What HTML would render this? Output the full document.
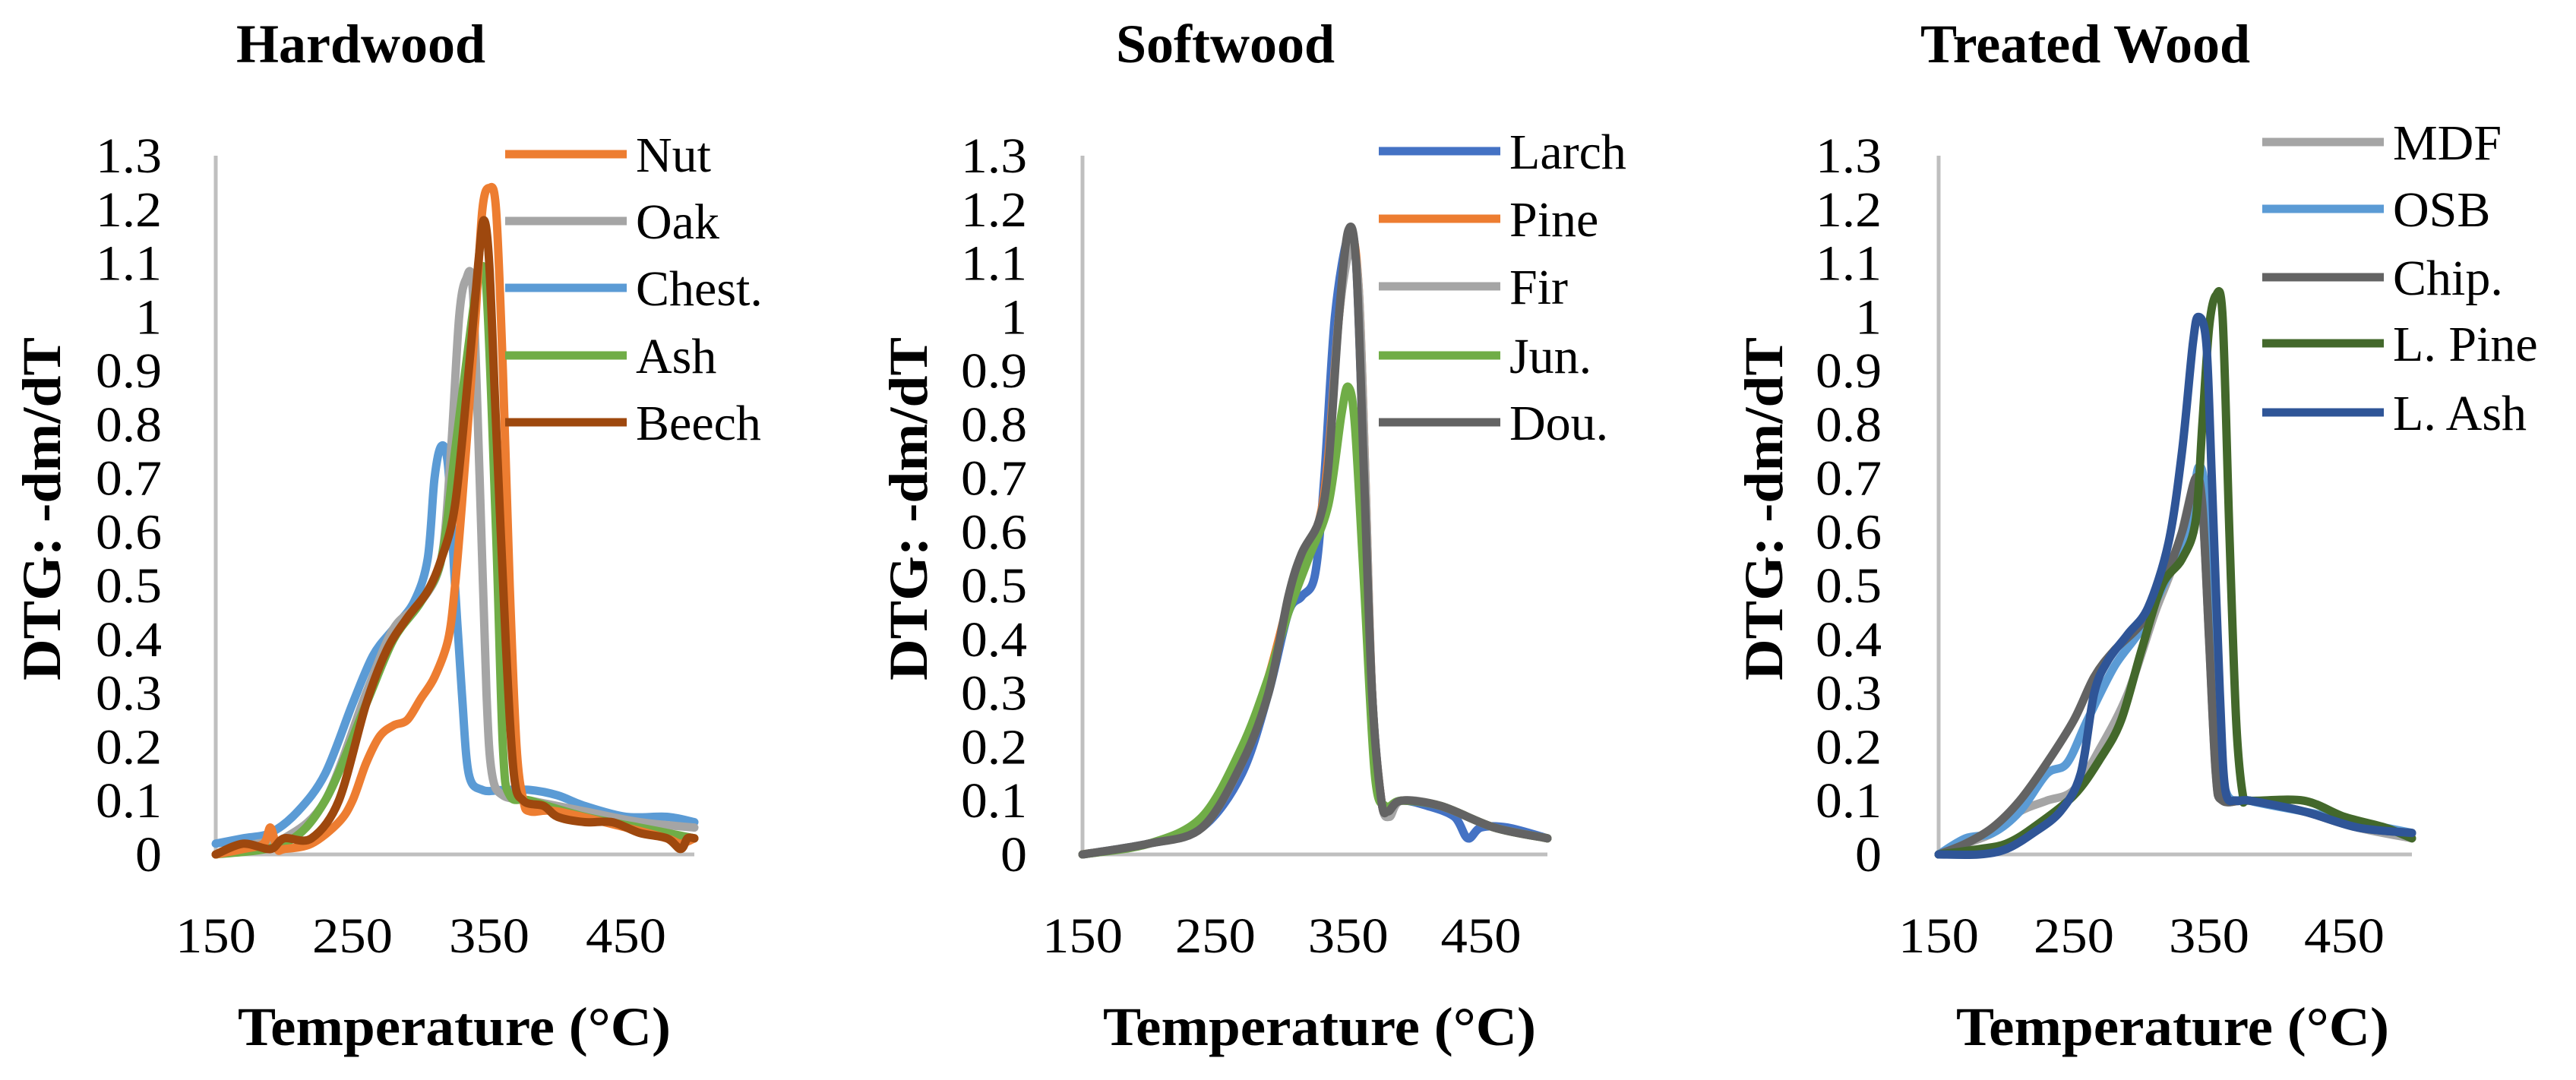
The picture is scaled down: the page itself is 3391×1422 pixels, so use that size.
<!DOCTYPE html>
<html><head><meta charset="utf-8"><style>
html,body{margin:0;padding:0;background:#fff;}
svg{display:block;}
text{font-family:"Liberation Serif",serif;fill:#000;}
.tick{font-size:66px;}
.leg{font-size:66px;}
.ttl{font-size:72px;font-weight:bold;}
.ax{font-size:72px;font-weight:bold;}
</style></head><body>
<svg id="chart" width="3391" height="1422" viewBox="0 0 3391 1422" xmlns="http://www.w3.org/2000/svg"></svg>
<script>
// shared axis data
const yTicks = [0,0.1,0.2,0.3,0.4,0.5,0.6,0.7,0.8,0.9,1,1.1,1.2,1.3];
const yTickLabels = ["0","0.1","0.2","0.3","0.4","0.5","0.6","0.7","0.8","0.9","1","1.1","1.2","1.3"];
const xTicks = [150,250,350,450];
const xTickLabels = ["150","250","350","450"];

// Hardwood
const hwNames = ["Nut","Oak","Chest.","Ash","Beech"];
const hwNutT = [150,170,185,190,195,200,220,240,250,260,270,280,290,300,310,320,325,330,335,340,345,350,355,360,365,370,375,380,400,450,480,490,500];
const hwNutV = [0,0.01,0.02,0.05,0.01,0.01,0.02,0.06,0.1,0.17,0.22,0.24,0.25,0.29,0.33,0.4,0.5,0.65,0.82,1.0,1.2,1.24,1.2,0.9,0.5,0.2,0.1,0.08,0.08,0.05,0.03,0.02,0.03];
const hwOakT = [150,180,200,230,260,280,300,315,322,328,333,338,343,348,352,360,380,420,460,500];
const hwOakV = [0,0.02,0.03,0.1,0.3,0.42,0.47,0.55,0.75,1.0,1.07,1.05,0.7,0.3,0.15,0.11,0.1,0.08,0.06,0.05];
const hwChestT = [150,170,190,210,230,250,265,280,295,305,310,315,320,325,330,335,345,360,380,400,420,450,480,500];
const hwChestV = [0.02,0.03,0.04,0.08,0.15,0.28,0.37,0.42,0.47,0.55,0.7,0.76,0.72,0.5,0.3,0.15,0.12,0.12,0.12,0.11,0.09,0.07,0.07,0.06];
const hwAshT = [150,200,230,260,280,300,315,325,335,342,348,355,360,365,380,420,460,500];
const hwAshV = [0,0.02,0.1,0.28,0.4,0.47,0.55,0.75,0.95,1.07,1.05,0.6,0.2,0.11,0.1,0.07,0.05,0.03];
const hwBeechT = [150,170,190,200,220,240,260,275,290,305,315,325,335,342,346,350,355,362,368,375,390,400,420,440,460,480,490,495,500];
const hwBeechV = [0,0.02,0.01,0.03,0.03,0.1,0.28,0.38,0.44,0.49,0.55,0.65,0.9,1.1,1.18,1.1,0.8,0.4,0.15,0.1,0.09,0.07,0.06,0.06,0.04,0.03,0.01,0.03,0.03];

// Softwood
const swNames = ["Larch","Pine","Fir","Jun.","Dou."];
const swLarchT = [150,200,240,270,290,305,315,325,332,340,350,356,362,368,375,380,390,410,430,440,450,470,500];
const swLarchV = [0,0.02,0.05,0.15,0.3,0.45,0.48,0.52,0.7,1.0,1.15,1.1,0.7,0.3,0.1,0.08,0.1,0.09,0.07,0.03,0.05,0.05,0.03];
const swPineT = [150,200,240,270,290,305,315,328,335,343,352,358,363,368,375,380,390,420,460,500];
const swPineV = [0,0.02,0.06,0.18,0.33,0.47,0.55,0.62,0.74,1.0,1.15,1.05,0.7,0.3,0.1,0.08,0.1,0.09,0.05,0.03];
const swFirT = [150,200,240,270,290,305,315,328,335,343,352,358,363,368,375,381,390,420,460,500];
const swFirV = [0,0.02,0.05,0.17,0.31,0.47,0.55,0.62,0.72,1.0,1.13,1.05,0.7,0.3,0.1,0.07,0.1,0.09,0.05,0.03];
const swJunT = [150,200,240,270,290,305,320,335,345,350,355,362,370,378,390,420,460,500];
const swJunV = [0,0.02,0.07,0.2,0.33,0.45,0.55,0.65,0.82,0.87,0.8,0.5,0.15,0.09,0.1,0.09,0.05,0.03];
const swDouT = [150,200,240,270,290,305,315,328,335,343,350,356,362,368,375,380,390,420,460,500];
const swDouV = [0,0.02,0.05,0.17,0.3,0.48,0.56,0.62,0.72,1.0,1.16,1.1,0.7,0.3,0.1,0.08,0.1,0.09,0.05,0.03];

// Treated wood
const twNames = ["MDF","OSB","Chip.","L. Pine","L. Ash"];
const twMdfT = [150,170,190,210,230,250,270,290,310,325,340,345,350,355,360,380,420,460,500];
const twMdfV = [0,0.02,0.04,0.08,0.1,0.12,0.2,0.3,0.45,0.55,0.7,0.65,0.4,0.15,0.1,0.1,0.08,0.05,0.03];
const twOsbT = [150,170,190,210,230,245,260,280,300,320,335,342,348,355,362,380,420,460,500];
const twOsbV = [0,0.03,0.04,0.08,0.15,0.17,0.25,0.35,0.42,0.52,0.6,0.72,0.65,0.3,0.12,0.1,0.08,0.06,0.04];
const twChipT = [150,170,190,210,230,250,265,280,300,315,330,340,345,350,355,360,380,420,460,500];
const twChipV = [0,0.02,0.05,0.1,0.17,0.25,0.33,0.38,0.43,0.5,0.6,0.7,0.65,0.4,0.15,0.1,0.1,0.08,0.05,0.04];
const twLPineT = [150,180,200,220,250,270,285,300,315,330,340,345,350,355,360,365,370,375,380,420,450,480,500];
const twLPineV = [0,0.01,0.02,0.05,0.11,0.18,0.25,0.38,0.5,0.55,0.62,0.8,0.98,1.04,1.0,0.6,0.25,0.11,0.1,0.1,0.07,0.05,0.03];
const twLAshT = [150,180,200,220,240,255,265,275,290,305,320,330,338,342,348,352,358,362,370,380,420,460,500];
const twLAshV = [0,0,0.01,0.04,0.08,0.15,0.3,0.36,0.41,0.46,0.58,0.75,0.95,1.0,0.95,0.7,0.3,0.12,0.1,0.1,0.08,0.05,0.04];

const NS = "http://www.w3.org/2000/svg";
const svg = document.getElementById("chart");
function mk(tag, attrs, parent){
  const e = document.createElementNS(NS, tag);
  for (const k in attrs) e.setAttribute(k, attrs[k]);
  (parent||svg).appendChild(e);
  return e;
}
function smoothPath(P){
  let d = "M" + P[0][0].toFixed(1) + "," + P[0][1].toFixed(1);
  const k = 0.16;
  for (let i=0;i<P.length-1;i++){
    const p0 = P[i-1]||P[i], p1 = P[i], p2 = P[i+1], p3 = P[i+2]||P[i+1];
    const c1x = p1[0] + (p2[0]-p0[0])*k, c1y = p1[1] + (p2[1]-p0[1])*k;
    const c2x = p2[0] - (p3[0]-p1[0])*k, c2y = p2[1] - (p3[1]-p1[1])*k;
    d += " C" + c1x.toFixed(1)+","+c1y.toFixed(1)+" "+c2x.toFixed(1)+","+c2y.toFixed(1)+" "+p2[0].toFixed(1)+","+p2[1].toFixed(1);
  }
  return d;
}

const panels = [
  {key:"hardwood", title:"Hardwood", titleX:475, x0:284, x1:914, tickRight:213, yTitleX:55, xTitleX:598, legLineX:665, legRows:[203,291,379,468,556],
   names:hwNames, colors:["#ED7D31","#A5A5A5","#5B9BD5","#70AD47","#9E480E"],
   series:[[hwNutT,hwNutV],[hwOakT,hwOakV],[hwChestT,hwChestV],[hwAshT,hwAshV],[hwBeechT,hwBeechV]], order:[2,1,3,0,4]},
  {key:"softwood", title:"Softwood", titleX:1613, x0:1425, x1:2037, tickRight:1352, yTitleX:1196, xTitleX:1737, legLineX:1815, legRows:[199,288,377,468,556],
   names:swNames, colors:["#4472C4","#ED7D31","#A5A5A5","#70AD47","#636363"],
   series:[[swLarchT,swLarchV],[swPineT,swPineV],[swFirT,swFirV],[swJunT,swJunV],[swDouT,swDouV]], order:[0,1,2,3,4]},
  {key:"treated-wood", title:"Treated Wood", titleX:2745, x0:2552, x1:3175, tickRight:2477, yTitleX:2322, xTitleX:2860, legLineX:2978, legRows:[187,275,365,452,543],
   names:twNames, colors:["#A5A5A5","#5B9BD5","#636363","#43682B","#2F5597"],
   series:[[twMdfT,twMdfV],[twOsbT,twOsbV],[twChipT,twChipV],[twLPineT,twLPineV],[twLAshT,twLAshV]], order:[0,1,2,3,4]}
];

const Y0 = 1125, Y13 = 205;
function yScale(v){ return Y0 - (v/1.3)*(Y0-Y13); }

panels.forEach(p => {
  const g = mk("g", {});
  
  
  const xScale = t => p.x0 + (t-150)/350*(p.x1-p.x0);

  const title = mk("text", {x:p.titleX, y:82, "text-anchor":"middle", class:"ttl"}, g);
  title.textContent = p.title;
  
  

  const yAxis = mk("line", {x1:p.x0, y1:Y13, x2:p.x0, y2:Y0+2, stroke:"#BFBFBF", "stroke-width":5}, g);
  
  
  const xAxis = mk("line", {x1:p.x0-2, y1:Y0, x2:p.x1, y2:Y0, stroke:"#BFBFBF", "stroke-width":5}, g);
  
  

  yTicks.forEach((v,i) => {
    const lab = yTickLabels[i];
    const w = lab.length===1 ? 35 : (lab.length*35 - 18);
    const t = mk("text", {x:p.tickRight, y:yScale(v)+22, "text-anchor":"end", class:"tick", textLength:w, lengthAdjust:"spacingAndGlyphs"}, g);
    t.textContent = lab;
    
    
  });
  xTicks.forEach((v,i) => {
    const t = mk("text", {x:xScale(v), y:1254, "text-anchor":"middle", class:"tick", textLength:106, lengthAdjust:"spacingAndGlyphs"}, g);
    t.textContent = xTickLabels[i];
    
    
  });

  const xt = mk("text", {x:p.xTitleX, y:1376, "text-anchor":"middle", class:"ax", textLength:570, lengthAdjust:"spacingAndGlyphs"}, g);
  xt.textContent = "Temperature (°C)";
  
  
  const yt = mk("text", {x:0, y:0, "text-anchor":"middle", class:"ax", textLength:452, lengthAdjust:"spacingAndGlyphs", transform:"translate("+(p.yTitleX+24)+",670) rotate(-90)"}, g);
  yt.textContent = "DTG: -dm/dT";
  
  

  p.order.forEach(si => {
    const [T,V] = p.series[si];
    const P = T.map((t,j) => [xScale(t), yScale(V[j])]);
    const pl = mk("path", {d:smoothPath(P), fill:"none", stroke:p.colors[si], "stroke-width":11, "stroke-linejoin":"round", "stroke-linecap":"round"}, g);
    
    
  });

  p.names.forEach((n,i) => {
    const lg = mk("g", {}, g);
    
    
    mk("line", {x1:p.legLineX, y1:p.legRows[i], x2:p.legLineX+160, y2:p.legRows[i], stroke:p.colors[i], "stroke-width":11}, lg);
    const t = mk("text", {x:p.legLineX+172, y:p.legRows[i]+23, class:"leg"}, lg);
    t.textContent = n;
  });
});
</script>
</body></html>
